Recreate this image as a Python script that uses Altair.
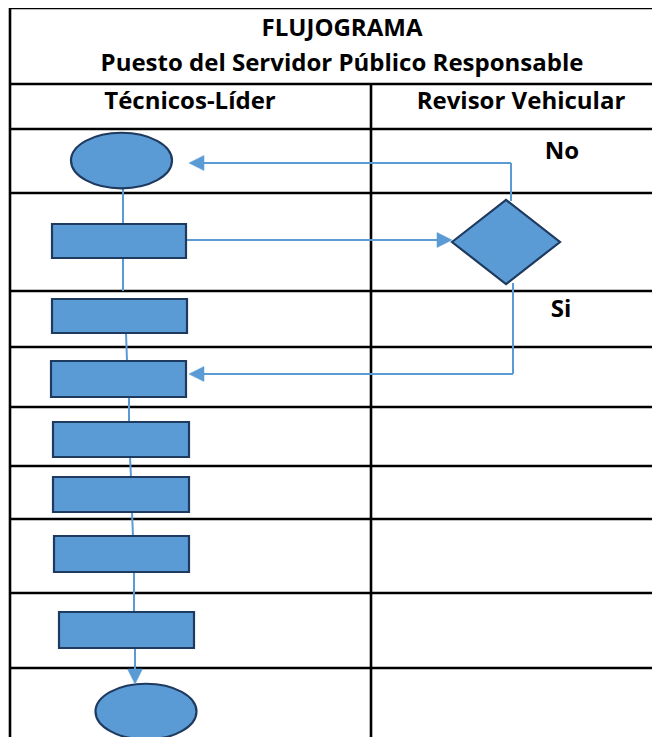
import altair as alt
import pandas as pd

# ---- table grid (image pixel coordinates) ----
h_lines_y = [8, 84, 129, 193, 291, 347, 407, 466, 519, 593, 668]
v_div_x = 371
left_x = 10

# ---- header texts ----
title_lines = ["FLUJOGRAMA", "Puesto del Servidor Público Responsable"]
title_y = [29, 64]
col_names = ["Técnicos-Líder", "Revisor Vehicular"]
col_x = [190, 521]
col_y = 102

# ---- process boxes ----
rect_x1 = [52, 52, 51, 53, 53, 54, 59]
rect_x2 = [186, 187, 186, 189, 189, 189, 194]
rect_y1 = [224, 299, 361, 422, 477, 536, 612]
rect_y2 = [258, 333, 397, 457, 512, 572, 648]

# ---- terminators (ellipses) ----
ell_x = [121.5, 146]
ell_y = [160.5, 711.5]

# ---- decision ----
dec_x = [506]
dec_y = [242]

# ---- connector segments ----
seg_x1 = [123, 123, 126, 129, 130, 132, 134, 135, 186, 511, 511, 513, 513]
seg_y1 = [189, 258, 333, 397, 457, 512, 572, 648, 240, 201, 163, 283, 374]
seg_x2 = [123, 123, 127, 129, 131, 133, 134, 135, 438, 511, 203, 513, 203]
seg_y2 = [224, 291, 361, 422, 477, 536, 612, 670, 240, 163, 163, 374, 374]

# ---- arrow heads (tip position, direction) ----
arr_x = [452, 189, 189, 135]
arr_y = [240, 163, 374, 684]
arr_dir = ["right", "left", "left", "down"]

# ---- branch labels ----
lab_text = ["No", "Si"]
lab_x = [562, 561]
lab_y = [152, 310]

FILL = "#5B9BD5"
EDGE = "#1F3A5F"
LINE = "#5B9BD5"

W, H = 644, 729
X0, Y0 = 8, 8
XMAX, YMAX = X0 + W, Y0 + H
xs = alt.Scale(domain=[X0, XMAX], range=[0, W], nice=False, zero=False)
ys = alt.Scale(domain=[Y0, YMAX], range=[0, H], nice=False, zero=False)


def X(f):
    return alt.X(f, type="quantitative", scale=xs, axis=None)


def Y(f):
    return alt.Y(f, type="quantitative", scale=ys, axis=None)


grid_rows = [{"x": left_x, "x2": XMAX, "y": y, "y2": y} for y in h_lines_y]
grid_rows.append({"x": left_x, "x2": left_x, "y": Y0, "y2": YMAX})
grid_rows.append({"x": v_div_x, "x2": v_div_x, "y": h_lines_y[1], "y2": YMAX})
grid = alt.Chart(pd.DataFrame(grid_rows)).mark_rule(
    color="black", strokeWidth=2.6
).encode(x=X("x"), x2="x2", y=Y("y"), y2="y2")

segs = alt.Chart(pd.DataFrame({"x": seg_x1, "y": seg_y1, "x2": seg_x2, "y2": seg_y2})).mark_rule(
    color=LINE, strokeWidth=2
).encode(x=X("x"), x2="x2", y=Y("y"), y2="y2")

rects = alt.Chart(pd.DataFrame({"x": rect_x1, "x2": rect_x2, "y": rect_y1, "y2": rect_y2})).mark_rect(
    fill=FILL, stroke=EDGE, strokeWidth=2.2
).encode(x=X("x"), x2="x2", y=Y("y"), y2="y2")

ellipse_path = "M -1 0 A 1 0.55 0 1 0 1 0 A 1 0.55 0 1 0 -1 0 Z"
ells = alt.Chart(pd.DataFrame({"x": ell_x, "y": ell_y})).mark_point(
    shape=ellipse_path, size=101 * 101, filled=True, fill=FILL, stroke=EDGE,
    strokeWidth=2.2, opacity=1
).encode(x=X("x"), y=Y("y"))

diamond_path = "M -1 0 L 0 -0.78 L 1 0 L 0 0.78 Z"
dia = alt.Chart(pd.DataFrame({"x": dec_x, "y": dec_y})).mark_point(
    shape=diamond_path, size=108 * 108, filled=True, fill=FILL, stroke=EDGE,
    strokeWidth=2.2, opacity=1
).encode(x=X("x"), y=Y("y"))

arrow_shapes = {
    "right": "M 0 0 L -2 -1 L -2 1 Z",
    "left": "M 0 0 L 2 -1 L 2 1 Z",
    "down": "M 0 0 L -1 -2 L 1 -2 Z",
}
arrows = []
for d in ["right", "left", "down"]:
    xs_d = [x for x, dd in zip(arr_x, arr_dir) if dd == d]
    ys_d = [y for y, dd in zip(arr_y, arr_dir) if dd == d]
    arrows.append(
        alt.Chart(pd.DataFrame({"x": xs_d, "y": ys_d})).mark_point(
            shape=arrow_shapes[d], size=15 * 15, filled=True, fill=LINE,
            stroke=LINE, strokeWidth=0.5, opacity=1
        ).encode(x=X("x"), y=Y("y"))
    )

FONT = "Open Sans"
FS = 24
titles = alt.Chart(pd.DataFrame({"t": title_lines, "x": [342, 342], "y": title_y})).mark_text(
    font=FONT, fontSize=FS, fontWeight="bold", color="black", align="center", baseline="middle"
).encode(x=X("x"), y=Y("y"), text="t:N")

cols = alt.Chart(pd.DataFrame({"t": col_names, "x": col_x, "y": [col_y, col_y]})).mark_text(
    font=FONT, fontSize=FS, fontWeight="bold", color="black", align="center", baseline="middle"
).encode(x=X("x"), y=Y("y"), text="t:N")

labels = alt.Chart(pd.DataFrame({"t": lab_text, "x": lab_x, "y": lab_y})).mark_text(
    font=FONT, fontSize=FS, fontWeight="bold", color="black", align="center", baseline="middle"
).encode(x=X("x"), y=Y("y"), text="t:N")

chart = alt.layer(
    grid, segs, rects, ells, dia, *arrows, titles, cols, labels
).properties(
    width=W, height=H, padding=0, background="white",
    autosize=alt.AutoSizeParams(type="none"),
).configure_view(stroke=None)

chart.save("out.html", embed_options={"renderer": "svg", "actions": False})
